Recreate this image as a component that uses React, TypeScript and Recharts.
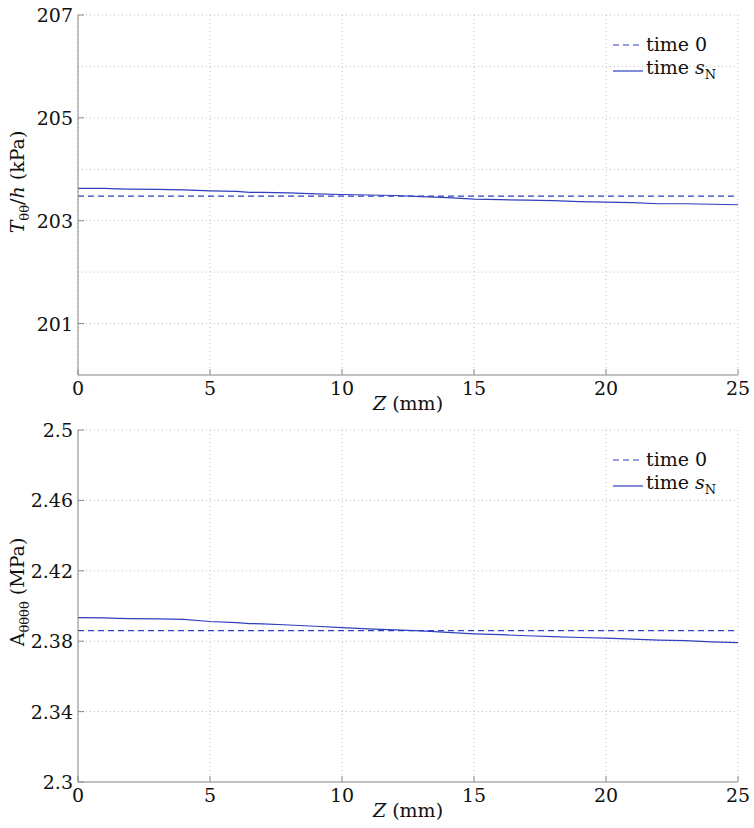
import React from "react";
import { LineChart, Line, XAxis, YAxis, CartesianGrid, Label } from "recharts";

const zValues = [0, 1, 1.5, 2, 3, 4, 5, 6, 6.5, 7, 8, 9, 10, 11, 12, 13, 14, 15, 16, 17, 18, 19, 20, 21, 22, 23, 24, 25];
const tensionFinal = [203.63, 203.63, 203.62, 203.615, 203.61, 203.6, 203.58, 203.57, 203.55, 203.55, 203.54, 203.52, 203.51, 203.5, 203.49, 203.47, 203.45, 203.42, 203.41, 203.4, 203.39, 203.37, 203.36, 203.35, 203.33, 203.33, 203.32, 203.31];
const stiffnessFinal = [2.3934, 2.3933, 2.393, 2.3928, 2.3927, 2.3924, 2.3912, 2.3905, 2.39, 2.3899, 2.3892, 2.3885, 2.3877, 2.387, 2.3864, 2.3859, 2.385, 2.3842, 2.3837, 2.3831, 2.3826, 2.3821, 2.3817, 2.3812, 2.3806, 2.3803, 2.3796, 2.3792];
const initialZ = [0, 25];
const tensionInitial = [203.48, 203.48];
const stiffnessInitial = [2.386, 2.386];

const zTicks = [0, 5, 10, 15, 20, 25];
const tensionTicks = [200, 201, 202, 203, 204, 205, 206, 207];
const tensionLabelled = [201, 203, 205, 207];
const stiffnessTicks = [2.3, 2.34, 2.38, 2.42, 2.46, 2.5];

const FONT = "DejaVu Serif";
const BLUE = "#2f3fc0";
const AXIS = "#8a8a8a";
const FS = 19;

const toRows = (xs: number[], ys: number[]) => xs.map((z, i) => ({ z, v: ys[i] }));

const XTick = ({ x, y, payload }: any) => (
  <g>
    <line x1={x} y1={y} x2={x} y2={y - 6} stroke={AXIS} />
    <text x={x} y={y + 20} textAnchor="middle" fontFamily={FONT} fontSize={FS} fill="#111">
      {payload.value}
    </text>
  </g>
);

const TopTick = ({ x, y }: any) => <line x1={x} y1={y} x2={x} y2={y + 6} stroke={AXIS} />;

const makeYTick = (labelled: number[] | null) => ({ x, y, payload }: any) => {
  const show = labelled ? labelled.includes(payload.value) : true;
  if (!show) return <g />;
  return (
    <g>
      <line x1={x} y1={y} x2={x + 6} y2={y} stroke={AXIS} />
      <text x={x - 5} y={y + 7} textAnchor="end" fontFamily={FONT} fontSize={FS} fill="#111">
        {payload.value}
      </text>
    </g>
  );
};

const makeRightTick = (labelled: number[] | null) => ({ x, y, payload }: any) => {
  const show = labelled ? labelled.includes(payload.value) : true;
  if (!show) return <g />;
  return <line x1={x} y1={y} x2={x - 6} y2={y} stroke={AXIS} />;
};

const LegendBox = ({ top }: { top: number }) => (
  <div style={{ position: "absolute", left: 612, top, fontFamily: FONT, fontSize: FS, color: "#111", lineHeight: "23px" }}>
    <div style={{ display: "flex", alignItems: "center" }}>
      <svg width={34} height={23}>
        <line x1={1} y1={12} x2={31} y2={12} stroke={BLUE} strokeWidth={1.2} strokeDasharray="6 4" />
      </svg>
      <span>time 0</span>
    </div>
    <div style={{ display: "flex", alignItems: "center" }}>
      <svg width={34} height={23}>
        <line x1={1} y1={12} x2={31} y2={12} stroke={BLUE} strokeWidth={1.2} />
      </svg>
      <span>
        time <i>s</i>
        <sub style={{ fontSize: 13 }}>N</sub>
      </span>
    </div>
  </div>
);

const Panel = ({
  height,
  bottomAxisHeight,
  finalValues,
  initialValues,
  domain,
  ticks,
  labelled,
  yLabel,
}: {
  height: number;
  bottomAxisHeight: number;
  finalValues: number[];
  initialValues: number[];
  domain: [number, number];
  ticks: number[];
  labelled: number[] | null;
  yLabel: (props: any) => React.ReactElement;
}) => (
  <LineChart width={754} height={height} margin={{ top: 15, right: 16, bottom: 0, left: 38 }}>
    <CartesianGrid xAxisId="b" yAxisId="l" stroke="#bdbdbd" strokeDasharray="1 3" />
    <XAxis
      xAxisId="b"
      dataKey="z"
      type="number"
      domain={[0, 25]}
      ticks={zTicks}
      height={bottomAxisHeight}
      tickSize={0}
      tickMargin={0}
      tickLine={false}
      axisLine={{ stroke: AXIS }}
      tick={<XTick />}
      interval={0}
    >
      <Label
        content={(p: any) => (
          <text
            x={p.viewBox.x + p.viewBox.width / 2}
            y={p.viewBox.y + 35}
            textAnchor="middle"
            fontFamily={FONT}
            fontSize={FS}
            fill="#111"
          >
            <tspan fontStyle="italic">Z</tspan> (mm)
          </text>
        )}
      />
    </XAxis>
    <XAxis
      xAxisId="t"
      orientation="top"
      dataKey="z"
      type="number"
      domain={[0, 25]}
      ticks={zTicks}
      height={0}
      tickSize={0}
      tickMargin={0}
      tickLine={false}
      axisLine={{ stroke: AXIS }}
      tick={<TopTick />}
      interval={0}
    />
    <YAxis
      yAxisId="l"
      type="number"
      domain={domain}
      ticks={ticks}
      width={40}
      tickSize={0}
      tickMargin={0}
      tickLine={false}
      axisLine={{ stroke: AXIS }}
      tick={makeYTick(labelled)}
      interval={0}
    >
      <Label content={yLabel} />
    </YAxis>
    <YAxis
      yAxisId="r"
      orientation="right"
      type="number"
      domain={domain}
      ticks={ticks}
      width={0}
      tickSize={0}
      tickMargin={0}
      tickLine={false}
      axisLine={{ stroke: AXIS }}
      tick={makeRightTick(labelled)}
      interval={0}
    />
    <Line
      xAxisId="b"
      yAxisId="l"
      data={toRows(initialZ, initialValues)}
      dataKey="v"
      type="linear"
      stroke={BLUE}
      strokeWidth={1.2}
      strokeDasharray="6 4"
      dot={false}
      isAnimationActive={false}
    />
    <Line
      xAxisId="b"
      yAxisId="l"
      data={toRows(zValues, finalValues)}
      dataKey="v"
      type="linear"
      stroke={BLUE}
      strokeWidth={1.2}
      dot={false}
      isAnimationActive={false}
    />
  </LineChart>
);

const tensionLabel = () => (
  <text transform="translate(24 182) rotate(-90)" textAnchor="middle" fontFamily={FONT} fontSize={FS} fill="#111">
    <tspan fontStyle="italic">T</tspan>
    <tspan fontSize={13} dy={5}>θθ</tspan>
    <tspan dy={-5}>/</tspan>
    <tspan fontStyle="italic">h</tspan>
    <tspan> (kPa)</tspan>
  </text>
);

const stiffnessLabel = () => (
  <text transform="translate(24 177) rotate(-90)" textAnchor="middle" fontFamily={FONT} fontSize={FS} fill="#111">
    <tspan>A</tspan>
    <tspan fontSize={13} dy={5}>θθθθ</tspan>
    <tspan dy={-5}> (MPa)</tspan>
  </text>
);

export default function App() {
  return (
    <div style={{ position: "absolute", left: 0, top: 0, width: 754, height: 828, background: "#fff" }}>
      <div style={{ position: "absolute", left: 0, top: 0 }}>
        <Panel
          height={415}
          bottomAxisHeight={40}
          finalValues={tensionFinal}
          initialValues={tensionInitial}
          domain={[200, 207]}
          ticks={tensionTicks}
          labelled={tensionLabelled}
          yLabel={tensionLabel}
        />
      </div>
      <div style={{ position: "absolute", left: 0, top: 415 }}>
        <Panel
          height={413}
          bottomAxisHeight={46}
          finalValues={stiffnessFinal}
          initialValues={stiffnessInitial}
          domain={[2.3, 2.5]}
          ticks={stiffnessTicks}
          labelled={null}
          yLabel={stiffnessLabel}
        />
      </div>
      <LegendBox top={33} />
      <LegendBox top={448} />
    </div>
  );
}
